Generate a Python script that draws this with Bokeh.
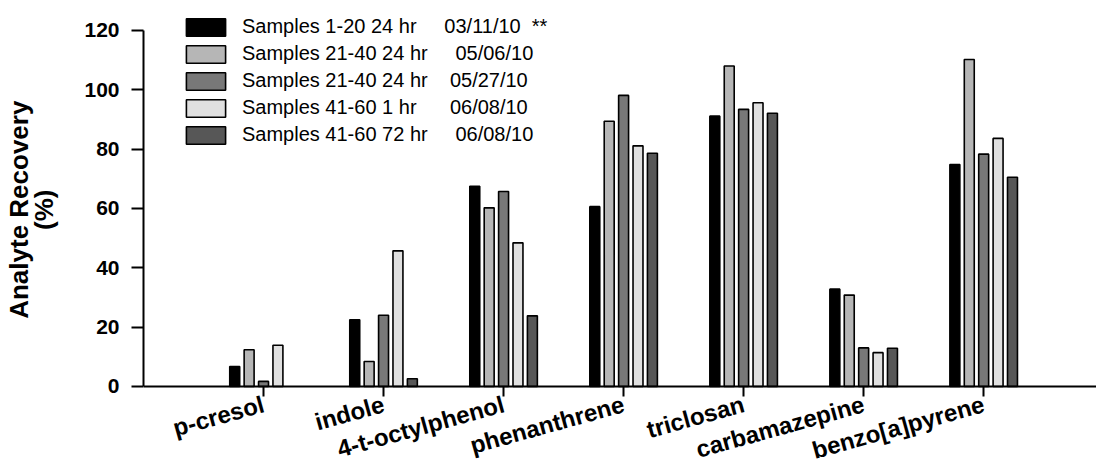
import math
from bokeh.plotting import figure
from bokeh.models import FixedTicker, Legend, LegendItem, ColumnDataSource
from bokeh.transform import dodge
from bokeh.embed import file_html
from bokeh.resources import INLINE

# ---- data ----
analytes = ["p-cresol", "indole", "4-t-octylphenol", "phenanthrene",
            "triclosan", "carbamazepine", "benzo[a]pyrene"]
s1_0311 = [6.7, 22.5, 67.5, 60.6, 91.1, 32.8, 74.8]
s2_0506 = [12.4, 8.4, 60.2, 89.4, 108.0, 30.8, 110.2]
s3_0527 = [1.7, 24.0, 65.7, 98.1, 93.4, 13.0, 78.3]
s4_0608_1hr = [13.9, 45.7, 48.4, 81.1, 95.6, 11.4, 83.6]
s5_0608_72hr = [float("nan"), 2.6, 23.8, 78.6, 92.1, 12.9, 70.5]

series_names = ["Samples 1-20 24 hr", "Samples 21-40 24 hr", "Samples 21-40 24 hr",
                "Samples 41-60 1 hr", "Samples 41-60 72 hr"]
series_dates = ["03/11/10", "05/06/10", "05/27/10", "06/08/10", "06/08/10"]
series_notes = ["**", "", "", "", ""]
y_ticks = [0, 20, 40, 60, 80, 100, 120]
y_title_lines = ["Analyte Recovery", "(%)"]

# ---- styling ----
colors = ["#000000", "#b6b6b6", "#787878", "#e0e0e0", "#575757"]
date_gaps = [5, 5, 4, 6, 5]
offsets = [-0.24, -0.12, 0.0, 0.12, 0.24]
bar_w = 0.083
NB = "\u00a0"
title_shift = 7  # leading no-break spaces: lift the centred title onto the 0-120 span

src = ColumnDataSource(dict(
    x=list(range(len(analytes))),
    s1=s1_0311, s2=s2_0506, s3=s3_0527, s4=s4_0608_1hr, s5=s5_0608_72hr,
))

p = figure(width=1096, height=464, x_range=(-1, 6.94), y_range=(-26.3, 128.4),
           output_backend="svg", toolbar_location=None,
           min_border_left=139, min_border_top=5, min_border_right=0,
           min_border_bottom=0)
p.outline_line_color = None
p.xgrid.visible = False
p.ygrid.visible = False
p.background_fill_color = "white"
p.border_fill_color = "white"

renderers = []
for i, key in enumerate(["s1", "s2", "s3", "s4", "s5"]):
    r = p.vbar(x=dodge("x", offsets[i], range=p.x_range), top=key, width=bar_w,
               bottom=0, source=src, fill_color=colors[i], line_color="black",
               line_width=1.6)
    renderers.append(r)

items = []
for i in range(5):
    label = series_names[i] + NB * date_gaps[i] + series_dates[i]
    if series_notes[i]:
        label += NB * 2 + series_notes[i]
    items.append(LegendItem(label=label, renderers=[renderers[i]]))

legend = Legend(items=items, location=(38, 318), glyph_width=49, glyph_height=22,
                label_height=21, label_standoff=12, spacing=4, padding=0, margin=0,
                border_line_color=None, background_fill_alpha=0,
                label_text_font_size="20px", label_text_font="Liberation Sans",
                label_text_color="black")
p.add_layout(legend, "center")

# x axis (sits at y = 0 inside the frame)
xa = p.xaxis[0]
xa.fixed_location = 0
xa.ticker = FixedTicker(ticks=list(range(len(analytes))))
xa.major_label_overrides = {i: n for i, n in enumerate(analytes)}
xa.major_label_orientation = 0.27
xa.major_label_text_font = "Liberation Sans"
xa.major_label_text_font_style = "bold"
xa.major_label_text_font_size = "24px"
xa.major_label_text_color = "black"
xa.major_label_standoff = 7
xa.axis_line_width = 2
xa.axis_line_color = "black"
xa.major_tick_line_width = 2
xa.major_tick_line_color = "black"
xa.major_tick_in = 0
xa.major_tick_out = 10
xa.minor_tick_line_color = None

# y axis
ya = p.yaxis[0]
ya.ticker = FixedTicker(ticks=y_ticks)
ya.bounds = (0, 120)
ya.major_label_text_font = "Liberation Sans"
ya.major_label_text_font_style = "bold"
ya.major_label_text_font_size = "21px"
ya.major_label_text_color = "black"
ya.major_label_standoff = 12
ya.axis_line_width = 2
ya.axis_line_color = "black"
ya.major_tick_line_width = 2
ya.major_tick_line_color = "black"
ya.major_tick_in = 0
ya.major_tick_out = 12
ya.minor_tick_line_color = None
ya.axis_label = "\n".join(NB * title_shift + line for line in y_title_lines)
ya.axis_label_text_font = "Liberation Sans"
ya.axis_label_text_font_style = "bold"
ya.axis_label_text_font_size = "26px"
ya.axis_label_text_color = "black"
ya.axis_label_text_line_height = 0.86
ya.axis_label_standoff = 22

open("out.html", "w").write(file_html(p, INLINE))
